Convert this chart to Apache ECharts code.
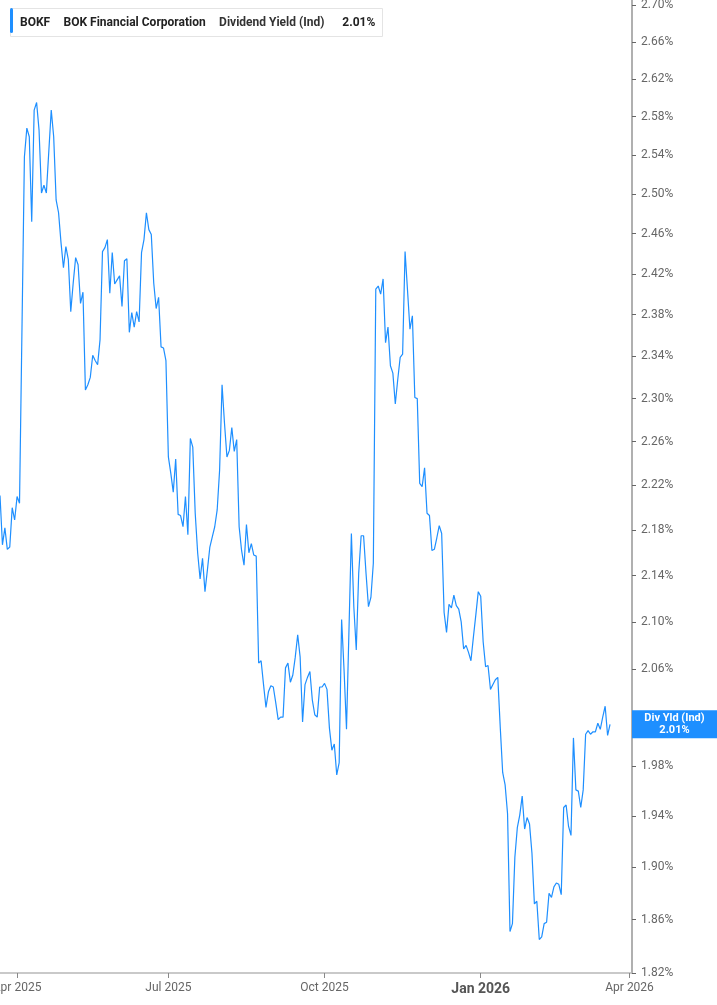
<!DOCTYPE html>
<html><head><meta charset="utf-8">
<script src="https://cdn.jsdelivr.net/npm/echarts@6/dist/echarts.min.js"></script>
<style>html,body{margin:0;padding:0;background:#fff}#c{width:717px;height:1005px}</style>
</head><body><div id="c"></div>
<script>
// Trading-day categories (weekdays between these dates, minus market holidays)
const startDate = '2025-03-21';
const endDate = '2026-04-02';
const holidays = ['2025-04-18','2025-05-26','2025-06-19','2025-07-04','2025-09-01','2025-11-27','2025-12-25','2026-01-01','2026-01-19','2026-02-16'];
const monthNames = ['Jan','Feb','Mar','Apr','May','Jun','Jul','Aug','Sep','Oct','Nov','Dec'];
const yTicks = [1.82,1.86,1.90,1.94,1.98,2.02,2.06,2.10,2.14,2.18,2.22,2.26,2.30,2.34,2.38,2.42,2.46,2.50,2.54,2.58,2.62,2.66,2.70];
const yMin = 1.82;
const yMax = 2.7057;

// Dividend Yield (Ind), %, one value per trading day (null = not read)
const divYield = [
2.211,2.167,2.182,2.163,2.165,2.200,2.189,2.210,2.204,null,
2.538,2.568,2.559,2.472,2.587,2.595,2.566,2.501,2.509,2.501,
null,2.587,2.559,2.494,2.481,2.451,2.426,2.447,2.434,2.383,
2.411,2.436,2.429,2.391,2.402,2.308,2.313,2.320,2.341,2.336,
2.332,2.356,2.442,2.446,2.454,2.401,2.441,2.410,2.414,2.418,
2.388,2.433,2.435,2.363,2.382,2.368,2.383,2.373,2.441,2.454,
2.481,2.464,2.459,2.411,2.386,2.397,2.349,2.348,2.336,2.246,
2.231,2.214,2.244,2.194,2.193,2.183,2.210,2.176,2.263,2.255,
2.195,2.160,2.137,2.155,2.126,2.145,2.165,2.174,2.183,2.198,
2.234,2.313,2.277,2.246,2.252,2.273,2.251,2.262,2.183,2.162,
2.149,2.185,2.160,2.168,2.158,2.157,2.065,2.067,2.047,2.028,
2.041,2.046,2.045,2.032,2.018,2.020,2.020,2.061,2.065,2.049,
2.055,2.070,2.089,2.070,2.016,2.047,2.053,2.058,2.034,2.022,
2.020,2.045,2.045,2.048,2.043,2.011,1.993,1.998,1.973,1.983,
2.102,2.059,2.010,null,2.177,2.113,2.076,2.142,2.175,2.175,
2.142,2.113,2.121,2.151,2.405,2.408,2.400,2.415,2.353,2.368,
2.331,2.324,2.295,2.318,2.339,2.342,2.442,2.404,2.366,2.379,
2.301,2.300,2.222,2.219,2.236,2.195,2.193,2.162,2.163,2.173,
2.184,2.177,2.108,2.091,2.115,2.112,2.123,2.114,2.111,2.100,
2.077,2.080,2.074,2.067,2.087,2.106,2.126,2.122,2.083,2.062,
2.063,2.043,2.047,2.051,2.053,2.012,1.975,1.965,1.942,1.851,
1.857,1.908,1.931,1.941,1.956,1.930,1.939,1.934,1.911,1.872,
1.874,1.845,1.847,1.857,1.858,1.880,1.877,1.885,1.888,1.887,
1.879,1.947,1.949,1.932,1.925,2.003,1.961,1.960,1.947,1.961,
2.006,2.009,2.006,2.008,2.008,2.015,2.010,2.020,2.029,2.005,
2.014
];
const lastLabel = 'Div Yld (Ind)';
const lastValueText = '2.01%';

// build categories
const dates = [];
(function(){
  const hs = new Set(holidays);
  let d = new Date(startDate + 'T00:00:00Z');
  const e = new Date(endDate + 'T00:00:00Z');
  while (d <= e) {
    const wd = d.getUTCDay();
    const s = d.toISOString().slice(0,10);
    if (wd !== 0 && wd !== 6 && !hs.has(s)) dates.push(s);
    d = new Date(d.getTime() + 86400000);
  }
})();
const isQuarterStart = dates.map((s, i) => {
  const m = +s.slice(5,7);
  if ([1,4,7,10].indexOf(m) < 0) return false;
  if (i === 0) return false;
  return dates[i-1].slice(5,7) !== s.slice(5,7);
});

const FONT = 'Roboto, "Noto Sans", sans-serif';
const BLUE = '#1e8fff';
const chart = echarts.init(document.getElementById('c'), null, {renderer:'canvas'});
let lastVal = null;
for (let i = divYield.length - 1; i >= 0; i--) { if (divYield[i] != null) { lastVal = divYield[i]; break; } }

chart.setOption({
  animation: false,
  backgroundColor: '#fff',
  title: {
    left: 10, top: 8,
    text: '{b|BOKF}   {b|BOK Financial Corporation}   {n|Dividend Yield (Ind)}    {b|2.01%}',
    backgroundColor: '#fff',
    borderColor: '#e4e4e4', borderWidth: 1,
    padding: [6, 7, 5, 10],
    textStyle: {
      fontFamily: FONT,
      rich: {
        b: {fontFamily: FONT, fontWeight: 'bold', fontSize: 12, color: '#222'},
        n: {fontFamily: FONT, fontSize: 12, color: '#333'}
      }
    }
  },
  graphic: [{
    type: 'rect', left: 10, top: 8, z: 100,
    shape: {width: 3, height: 25, r: 1.5},
    style: {fill: BLUE}
  }],
  grid: {left: 0, right: 85, top: 0, bottom: 32, containLabel: false, outerBoundsMode: 'none'},
  xAxis: {
    type: 'category',
    data: dates,
    boundaryGap: false,
    axisLine: {show: true, lineStyle: {color: '#b8b8b8', width: 1.5}},
    axisTick: {show: true, length: 5, interval: (i) => isQuarterStart[i], lineStyle: {color: '#888'}},
    axisLabel: {
      interval: (i) => isQuarterStart[i],
      margin: 9,
      color: '#666', fontSize: 12, fontFamily: FONT,
      formatter: (v) => {
        const m = monthNames[+v.slice(5,7) - 1];
        const y = v.slice(0,4);
        return m === 'Jan' ? '{j|' + m + ' ' + y + '}' : m + ' ' + y;
      },
      rich: {j: {fontWeight: 'bold', fontSize: 14, color: '#555', fontFamily: FONT}}
    },
    splitLine: {show: false}
  },
  yAxis: {
    type: 'log',
    logBase: 10,
    position: 'right',
    min: yMin, max: yMax,
    axisLine: {show: true, lineStyle: {color: '#b0b0b0', width: 2}},
    axisTick: {show: true, inside: false, length: 4, customValues: yTicks, lineStyle: {color: '#666'}},
    axisLabel: {
      customValues: yTicks,
      margin: 9, color: '#666', fontSize: 12, fontFamily: FONT,
      formatter: (v) => Number(v).toFixed(2) + '%'
    },
    splitLine: {show: false}
  },
  series: [{
    type: 'line',
    data: divYield,
    connectNulls: true,
    showSymbol: false,
    symbol: 'none',
    clip: false,
    lineStyle: {color: BLUE, width: 1.2},
    markLine: {
      silent: true,
      symbol: ['none', 'none'],
      lineStyle: {color: 'rgba(0,0,0,0)', width: 0, type: 'solid'},
      data: [{yAxis: lastVal}],
      label: {
        show: true, position: 'end', distance: 0, opacity: 1,
        offset: [0, -5],
        formatter: '{a|' + lastLabel + '}\n{a|' + lastValueText + '}',
        backgroundColor: BLUE,
        padding: [2, 0, 2, 0],
        rich: {a: {width: 85, align: 'center', color: '#fff', fontWeight: 'bold', fontSize: 11, lineHeight: 12, fontFamily: FONT}}
      }
    }
  }]
});
</script></body></html>
